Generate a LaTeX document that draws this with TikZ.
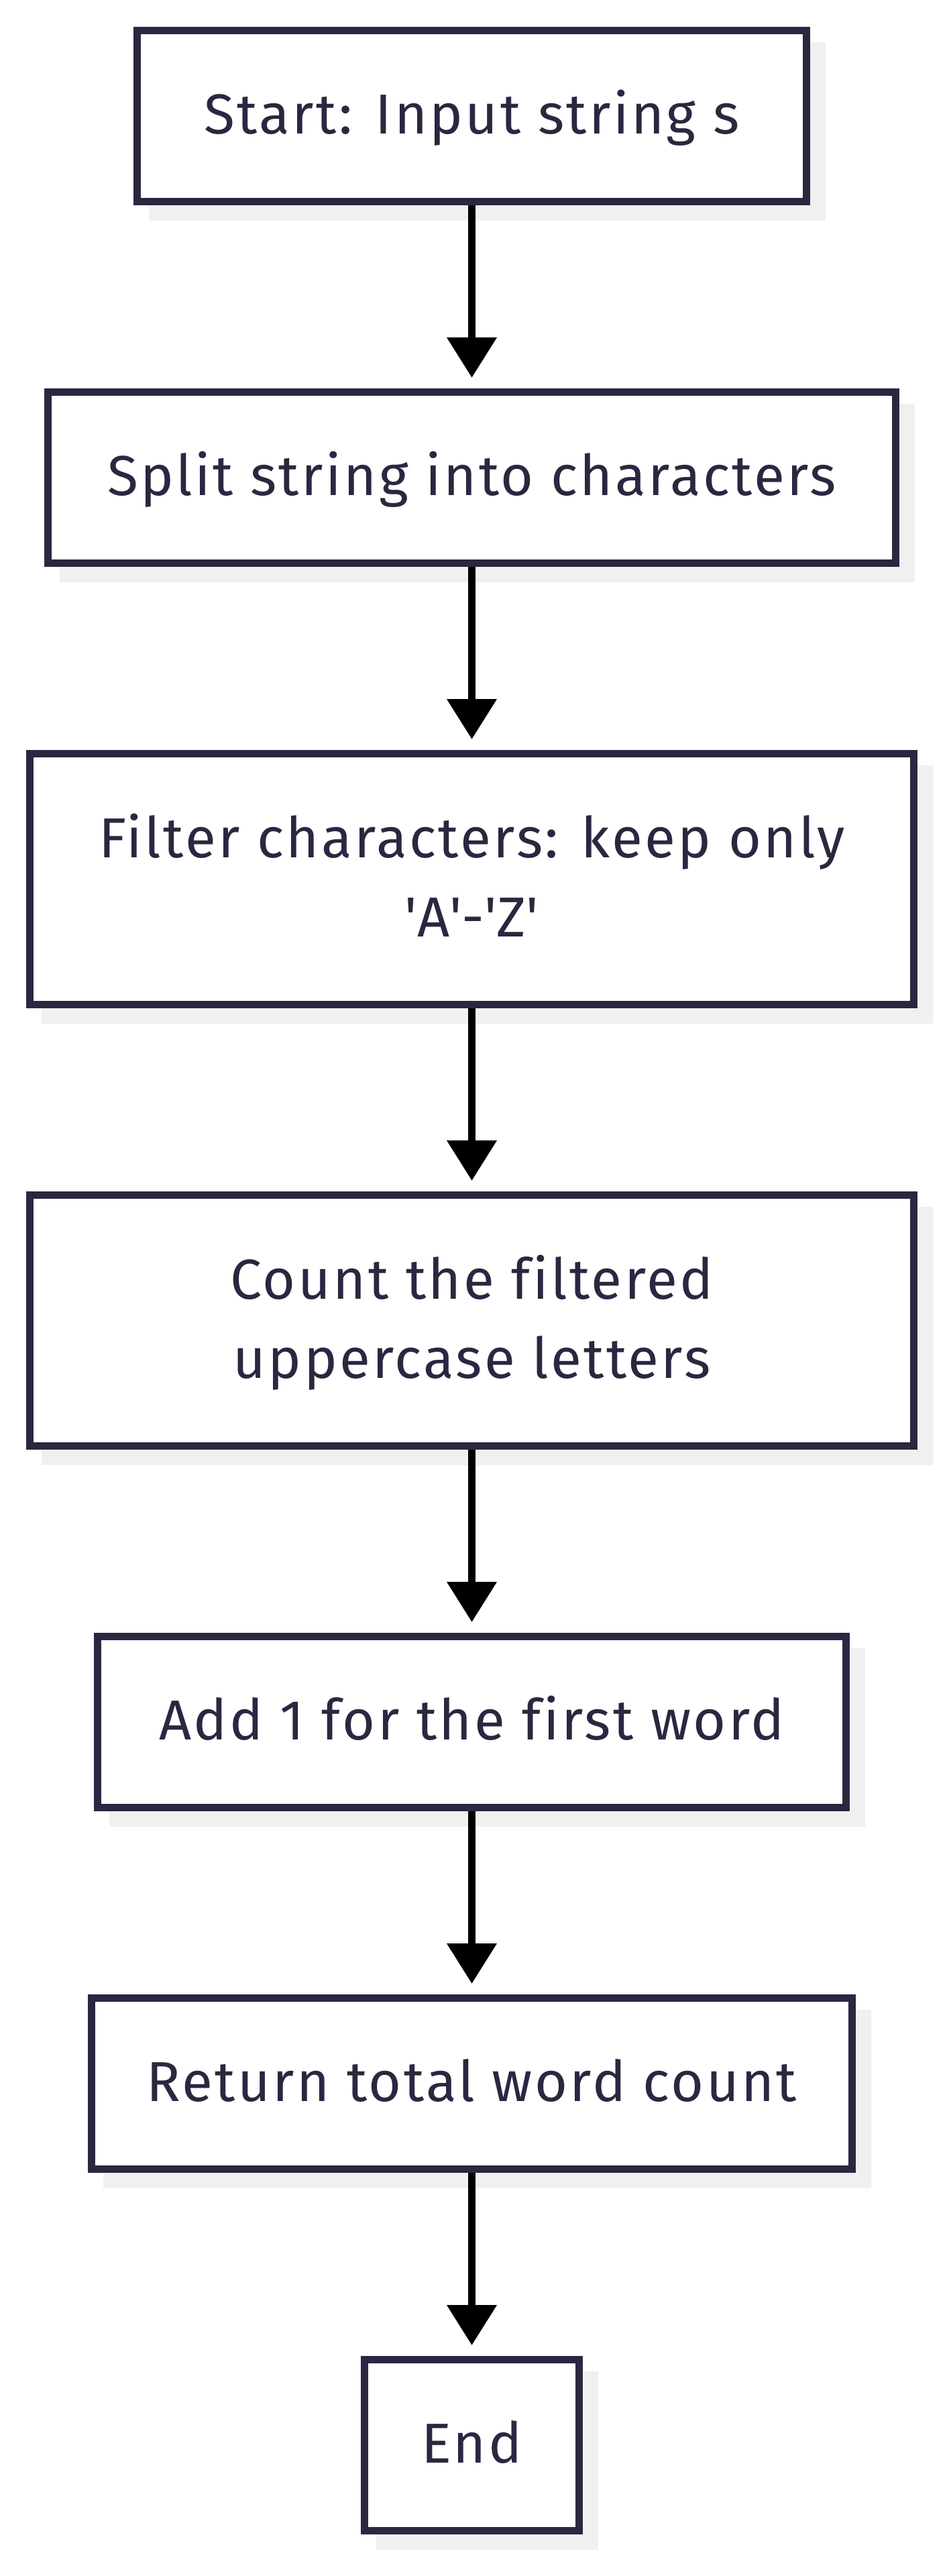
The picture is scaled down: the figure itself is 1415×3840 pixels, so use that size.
\documentclass[tikz,border=0pt]{standalone}
\usepackage{fontspec}
\setmainfont{Fira Sans}[LetterSpace=4,Ligatures=NoCommon]
\usetikzlibrary{arrows.meta,backgrounds}
\definecolor{boxline}{RGB}{40,40,64}
\definecolor{shadowc}{RGB}{240,240,240}
\begin{document}
\begin{tikzpicture}[x=1pt,y=-1pt,
  stepbox/.style={draw=boxline, line width=11pt, fill=white, inner sep=0pt,
    outer sep=5.5pt, font=\fontsize{84}{118}\selectfont, text=boxline,
    align=center, text height=70pt, text depth=17pt},
  twoline/.style={text height=188pt},
  flow/.style={line width=11pt, draw=black,
    -{Triangle[width=72pt,length=60pt]}, shorten >=16pt}]
\useasboundingbox (0,0) rectangle (1415,3840);
\node[stepbox, minimum width=998pt, minimum height=255pt] (n1) at (703.5,173) {Start: Input string s};
\node[stepbox, minimum width=1264pt, minimum height=255pt] (n2) at (703.5,712) {Split string into characters};
\node[stepbox, twoline, minimum width=1318pt, minimum height=374pt] (n3) at (703.5,1310.5) {Filter characters: keep only\\\textquotesingle A\textquotesingle -\textquotesingle Z\textquotesingle};
\node[stepbox, twoline, minimum width=1318pt, minimum height=374pt] (n4) at (703.5,1968.5) {Count the filtered\\uppercase letters};
\node[stepbox, minimum width=1116pt, minimum height=255pt] (n5) at (703.5,2567) {Add 1 for the first word};
\node[stepbox, minimum width=1134pt, minimum height=255pt] (n6) at (703.5,3106) {Return total word count};
\node[stepbox, minimum width=320pt, minimum height=255pt] (n7) at (703.5,3645) {End};
\begin{scope}[on background layer]
  \fill[white] (0,0) rectangle (1415,3840);
  \foreach \n in {n1,n2,n3,n4,n5,n6,n7}
    \fill[shadowc] ([shift={(23,23)}]\n.north west) rectangle ([shift={(23,23)}]\n.south east);
\end{scope}
\draw[flow] (n1.south) -- (n2.north);
\draw[flow] (n2.south) -- (n3.north);
\draw[flow] (n3.south) -- (n4.north);
\draw[flow] (n4.south) -- (n5.north);
\draw[flow] (n5.south) -- (n6.north);
\draw[flow] (n6.south) -- (n7.north);
\end{tikzpicture}
\end{document}
